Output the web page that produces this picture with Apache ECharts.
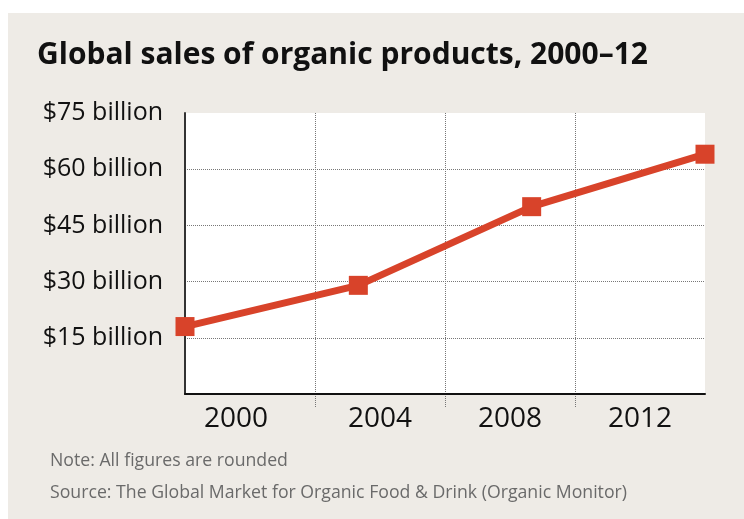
<!DOCTYPE html>
<html>
<head>
<meta charset="utf-8">
<script src="https://cdn.jsdelivr.net/npm/echarts@6/dist/echarts.min.js"></script>
<style>
  html, body { margin: 0; padding: 0; background: #ffffff; }
  #chart { width: 744px; height: 519px; }
</style>
</head>
<body>
<div id="chart"></div>
<script>
// Sales figures (US$ billion) by year
const years = [2000, 2004, 2008, 2012];
const sales = [18, 29, 50, 64];
// Period labels along the bottom axis
const periodLabels = ['2000', '2004', '2008', '2012'];
// Value-axis ticks
const yTicks = [15, 30, 45, 60, 75];

const FONT = 'Open Sans';
const RED = '#d8432a';
const GRID_GREY = '#777777';
const dotted = { color: GRID_GREY, type: 'dotted', width: 1 };

const chart = echarts.init(document.getElementById('chart'), null, { renderer: 'canvas' });

chart.setOption({
  backgroundColor: '#ffffff',
  animation: false,
  graphic: [{
    type: 'rect',
    z: -10,
    silent: true,
    shape: { x: 8, y: 13, width: 736, height: 506 },
    style: { fill: '#eeebe6' }
  }],
  title: [
    {
      text: 'Global sales of organic products, 2000–12',
      left: 37, top: 40, padding: 0,
      textStyle: { fontFamily: FONT, fontWeight: 'bold', fontSize: 30, color: '#111111' }
    },
    {
      text: 'Note: All figures are rounded',
      left: 50, top: 452, padding: 0,
      textStyle: { fontFamily: FONT, fontWeight: 'normal', fontSize: 17.7, color: '#6a6a6a' }
    },
    {
      text: 'Source: The Global Market for Organic Food & Drink (Organic Monitor)',
      left: 50, top: 484, padding: 0,
      textStyle: { fontFamily: FONT, fontWeight: 'normal', fontSize: 17.7, color: '#6a6a6a' }
    }
  ],
  grid: [
    // main plotting area
    { left: 185, top: 113, width: 520, height: 281, show: true, backgroundColor: '#ffffff', borderWidth: 0 },
    // strip under the baseline carrying the period dividers
    { left: 185, top: 394, width: 520, height: 14, show: false }
  ],
  xAxis: [
    {
      type: 'category',
      gridIndex: 0,
      data: periodLabels,
      boundaryGap: true,
      axisLine: { show: true, lineStyle: { color: '#111111', width: 2 } },
      axisTick: { show: false },
      axisLabel: {
        interval: 0,
        fontFamily: FONT, fontSize: 28, color: '#111111', margin: 11,
        formatter: (v, i) => (i === 0 ? '{first|' + v + '}' : v),
        rich: { first: { fontFamily: FONT, fontSize: 28, color: '#111111', padding: [0, 28, 0, 0] } }
      },
      splitLine: { show: true, interval: 0, showMinLine: false, showMaxLine: false, lineStyle: dotted },
      z: 3
    },
    {
      type: 'value',
      gridIndex: 0,
      min: 2000, max: 2012,
      show: false
    },
    {
      type: 'category',
      gridIndex: 1,
      data: periodLabels,
      boundaryGap: true,
      axisLine: { show: false },
      axisTick: { show: false },
      axisLabel: { show: false },
      splitLine: { show: true, interval: 0, showMinLine: false, showMaxLine: false, lineStyle: dotted }
    }
  ],
  yAxis: [
    {
      type: 'value',
      gridIndex: 0,
      min: 0, max: 75, interval: 15,
      axisLine: { show: true, lineStyle: { color: '#333333', width: 2 } },
      axisTick: { show: false },
      axisLabel: {
        fontFamily: FONT, fontSize: 25, color: '#111111', margin: 22,
        padding: [0, 0, 6, 0],
        formatter: v => (yTicks.indexOf(v) >= 0 ? '$' + v + ' billion' : '')
      },
      splitLine: { show: true, showMinLine: false, showMaxLine: false, lineStyle: dotted }
    },
    {
      type: 'value',
      gridIndex: 1,
      min: 0, max: 1,
      show: false
    }
  ],
  series: [{
    type: 'line',
    xAxisIndex: 1,
    yAxisIndex: 0,
    data: years.map((y, i) => [y, sales[i]]),
    clip: false,
    symbol: 'rect',
    symbolSize: 19,
    itemStyle: { color: RED },
    lineStyle: { color: RED, width: 7 },
    z: 5
  }]
});
</script>
</body>
</html>
